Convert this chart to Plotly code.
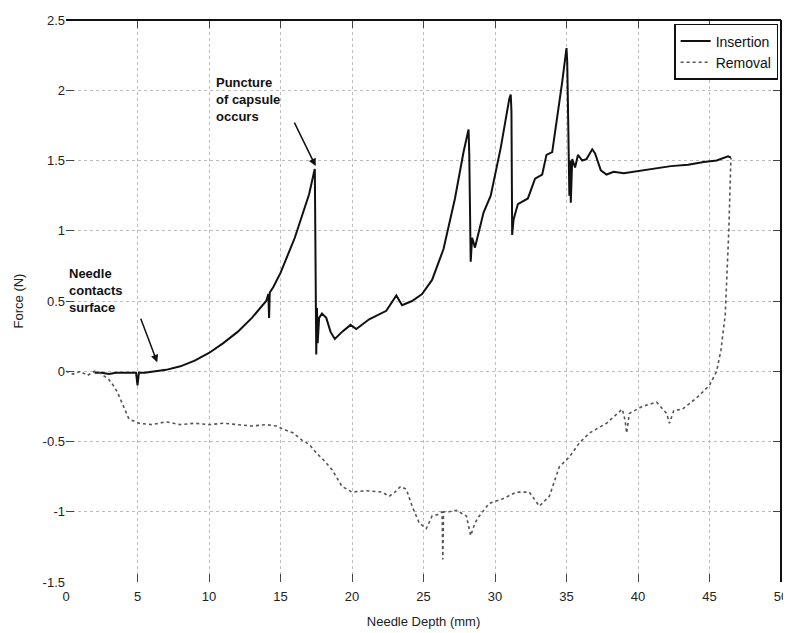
import plotly.graph_objects as go

# ---- data ----
ins_x = [2.0, 2.5, 3, 3.5, 4, 4.5, 4.9, 5.0, 5.1, 5.5, 6, 6.5, 7, 8, 9, 10, 11, 12, 13, 14,
         14.15, 14.2, 14.25, 14.5, 15, 16, 17, 17.35, 17.38, 17.4, 17.45, 17.5, 17.55, 17.6,
         17.7, 17.9, 18.2, 18.5, 18.8, 19.3, 19.9, 20.3, 21.2, 22.4, 23.1, 23.5, 24.2, 24.9,
         25.6, 26.4, 27.2, 27.8, 28.15, 28.2, 28.3, 28.4, 28.6, 29.2, 29.7, 30.4, 31.0, 31.1,
         31.15, 31.2, 31.3, 31.6, 32.3, 32.8, 33.3, 33.6, 34.0, 34.2, 34.7, 35.0, 35.05, 35.1,
         35.2, 35.25, 35.3, 35.4, 35.6, 35.8, 36.1, 36.4, 36.8, 37.0, 37.4, 37.8, 38.3, 39,
         40.2, 41, 42.3, 43.5, 44.6, 45.5, 46.3, 46.5]
ins_y = [-0.01, -0.01, -0.02, -0.01, -0.01, -0.01, -0.01, -0.1, -0.01, -0.01, -0.005, 0.0,
         0.01, 0.035, 0.075, 0.13, 0.2, 0.28, 0.38, 0.5,
         0.55, 0.38, 0.56, 0.6, 0.7, 0.95, 1.26, 1.42, 1.03, 1.44, 0.5, 0.12, 0.45, 0.2,
         0.38, 0.41, 0.38, 0.28, 0.23, 0.28, 0.33, 0.30, 0.37, 0.43, 0.54, 0.47, 0.5, 0.55,
         0.65, 0.87, 1.23, 1.56, 1.72, 1.55, 0.78, 0.95, 0.88, 1.13, 1.25, 1.59, 1.94, 1.97,
         1.85, 0.97, 1.08, 1.19, 1.23, 1.37, 1.40, 1.54, 1.56, 1.7, 2.06, 2.3, 2.2, 1.9,
         1.25, 1.5, 1.2, 1.51, 1.45, 1.54, 1.5, 1.51, 1.58, 1.55, 1.43, 1.40, 1.42, 1.41,
         1.43, 1.44, 1.46, 1.47, 1.49, 1.5, 1.53, 1.52]

rem_x = [0, 0.5, 1, 1.5, 2, 2.5, 3, 3.3, 3.6, 4.0, 4.4, 5.1, 6, 7, 8, 9, 10, 11, 12, 13, 14,
         14.7, 15.4, 15.9, 16.5, 17.0, 17.5, 18.0, 18.6, 19.3, 20, 21, 22.1, 22.6, 23.0, 23.4,
         23.8, 24.2, 24.7, 25.2, 25.6, 26.0, 26.3, 26.35, 26.4, 26.8, 27.3, 28.0, 28.3, 28.6,
         28.9, 29.6, 30.5, 31.5, 32.4, 33.1, 33.8, 34.5, 35.2, 35.9, 36.6, 37.8, 38.9, 39.1,
         39.2, 39.4, 40.3, 41.3, 42.0, 42.2, 42.5, 43.1, 44.1, 45.0, 45.5, 45.8, 46.1, 46.25,
         46.35, 46.45, 46.5]
rem_y = [0, -0.02, 0.0, -0.03, 0.0, -0.02, -0.06, -0.1, -0.15, -0.25, -0.34, -0.37, -0.38,
         -0.36, -0.38, -0.37, -0.38, -0.37, -0.38, -0.39, -0.38,
         -0.39, -0.42, -0.44, -0.49, -0.52, -0.58, -0.63, -0.70, -0.82, -0.86, -0.85, -0.86,
         -0.89, -0.86, -0.82, -0.84, -0.96, -1.08, -1.12, -1.03, -1.02, -1.0, -1.34, -1.0,
         -1.0, -0.99, -1.03, -1.17, -1.08, -1.03, -0.94, -0.91, -0.86, -0.86, -0.96, -0.89,
         -0.68, -0.61, -0.51, -0.44, -0.37, -0.27, -0.35, -0.44, -0.3, -0.25, -0.22, -0.3,
         -0.37, -0.28, -0.27, -0.19, -0.1, 0.0, 0.15, 0.4, 0.7, 1.0, 1.35, 1.52]

x_ticks = [0, 5, 10, 15, 20, 25, 30, 35, 40, 45, 50]
y_ticks = [-1.5, -1, -0.5, 0, 0.5, 1, 1.5, 2, 2.5]
y_tick_text = ["-1.5", "-1", "-0.5", "0", "0.5", "1", "1.5", "2", "2.5"]

FONT = "Liberation Sans, Arial, sans-serif"

fig = go.Figure()
fig.add_trace(go.Scatter(x=ins_x, y=ins_y, mode="lines", name="Insertion",
                         line=dict(color="#111111", width=2)))
fig.add_trace(go.Scatter(x=rem_x, y=rem_y, mode="lines", name="Removal",
                         line=dict(color="#555555", width=1.6, dash="dot")))

axis_common = dict(showline=False, zeroline=False, showgrid=True, automargin=False,
                   gridcolor="#bdbdbd", griddash="dot", gridwidth=1,
                   ticks="inside", ticklen=8, tickcolor="#444", mirror="ticks",
                   tickfont=dict(family=FONT, size=13, color="#222"))

fig.update_xaxes(range=[0, 50], tickvals=x_ticks, ticklabelstandoff=5,
                 title=dict(text="Needle Depth (mm)", font=dict(family=FONT, size=13, color="#222"),
                            standoff=13),
                 **axis_common)
fig.update_yaxes(range=[-1.5, 2.5], tickvals=y_ticks, ticktext=y_tick_text,
                 title=dict(text="Force (N)", font=dict(family=FONT, size=13, color="#222"),
                            standoff=16),
                 **axis_common)

# top and right frame lines
fig.add_shape(type="line", xref="paper", yref="paper", x0=0, x1=1, y0=1, y1=1,
              line=dict(color="#111", width=2))
fig.add_shape(type="line", xref="paper", yref="paper", x0=1, x1=1, y0=0, y1=1,
              line=dict(color="#111", width=2))

ann_font = dict(family=FONT, size=13, color="#111")
fig.add_annotation(x=10.35, y=1.936, xref="x", yref="y", text="<b>Puncture<br>of capsule<br>occurs</b>",
                   showarrow=False, xanchor="left", yanchor="middle", align="left", font=ann_font)
fig.add_annotation(x=17.46, y=1.46, ax=15.92, ay=1.78, xref="x", yref="y", axref="x", ayref="y",
                   showarrow=True, arrowhead=2, arrowsize=1, arrowwidth=1.5, arrowcolor="#111", text="")
fig.add_annotation(x=0.1, y=0.576, xref="x", yref="y", text="<b>Needle<br>contacts<br>surface</b>",
                   showarrow=False, xanchor="left", yanchor="middle", align="left", font=ann_font)
fig.add_annotation(x=6.38, y=0.064, ax=5.19, ay=0.384, xref="x", yref="y", axref="x", ayref="y",
                   showarrow=True, arrowhead=2, arrowsize=1, arrowwidth=1.5, arrowcolor="#111", text="")

# the page body adds an 8px offset, so the figure is sized to fit the 791x633 window
fig.update_layout(
    width=783, height=625,
    margin=dict(l=58, r=10, t=12, b=51),
    paper_bgcolor="white", plot_bgcolor="white",
    font=dict(family=FONT, size=13, color="#222"),
    legend=dict(x=0.996, y=0.993, xanchor="right", yanchor="top",
                bgcolor="white", bordercolor="#111", borderwidth=1.5,
                itemwidth=30, entrywidth=112, entrywidthmode="pixels",
                font=dict(family=FONT, size=14, color="#111"),
                tracegroupgap=0),
)

fig.write_html("out.html")
